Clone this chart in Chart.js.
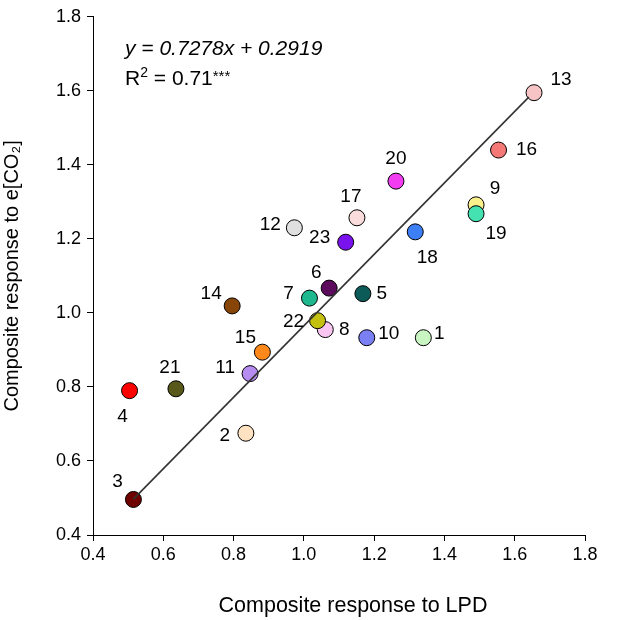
<!DOCTYPE html>
<html>
<head>
<meta charset="utf-8">
<script src="https://cdn.jsdelivr.net/npm/chart.js@4"></script>
<style>
html,body{margin:0;padding:0;background:#fff;}
#wrap{width:633px;height:620px;}
</style>
</head>
<body>
<div id="wrap"><canvas id="c" width="633" height="620"></canvas></div>
<script>
// ---- data ----
const pointIds = [1,2,3,4,5,6,7,8,9,10,11,12,13,14,15,16,17,18,19,20,21,22,23];
const lpdResponse = [1.340,0.835,0.515,0.504,1.168,1.072,1.016,1.061,1.490,1.179,0.847,0.973,1.655,0.796,0.882,1.554,1.151,1.317,1.490,1.262,0.636,1.039,1.119];
const co2Response = [0.933,0.675,0.496,0.790,1.052,1.067,1.040,0.955,1.292,0.933,0.836,1.230,1.595,1.019,0.894,1.440,1.257,1.219,1.268,1.356,0.795,0.979,1.191];
const fitLineX = [0.515, 1.640];
const fitLineY = [0.497, 1.583];
const xTicks = [0.4,0.6,0.8,1.0,1.2,1.4,1.6,1.8];
const yTicks = [0.4,0.6,0.8,1.0,1.2,1.4,1.6,1.8];
const xTitle = 'Composite response to LPD';
const yTitle = 'Composite response to e[CO₂]';
const equationText = 'y = 0.7278x + 0.2919';
const r2Value = '0.71';
const r2Stars = '***';

// ---- styles ----
const pointColors = ['#c9f5c3','#ffe2c2','#6e0000','#ff0000','#0d5b58','#5c0a5c','#1fb88e','#f8c6f0','#faf08c','#7b7ff4','#b78cf0','#e0e0e0','#f6c4c4','#884508','#ff881a','#f47976','#fbdcdc','#3d7ff7','#44e2b0','#f23cf2','#58581a','#c4c010','#7a12ee'];
const labelOffsets = [[16,-4],[-21,3],[-16,-18],[-7,26],[19,0],[-13,-15],[-21,-4],[19,0],[19,-16],[22,-4],[-25,-6],[-24,-3],[27,-13],[-21,-12],[-17,-14],[28,0],[-6,-21],[12,26],[20,20],[0,-22],[-6,-21],[-24,1],[-26,-4]];
const FONT = '"Liberation Sans", Arial, sans-serif';

const textLayer = {
  id: 'textLayer',
  afterDatasetsDraw(chart) {
    const ctx = chart.ctx;
    const meta = chart.getDatasetMeta(1);
    ctx.save();
    ctx.font = '19px ' + FONT;
    ctx.fillStyle = '#000';
    ctx.textAlign = 'center';
    ctx.textBaseline = 'middle';
    meta.data.forEach((el, i) => {
      const o = labelOffsets[i];
      ctx.fillText(String(pointIds[i]), el.x + o[0], el.y + o[1]);
    });
    const a = chart.chartArea;
    // x-axis title
    ctx.textBaseline = 'alphabetic';
    ctx.font = '21.5px ' + FONT;
    ctx.fillText(xTitle, (a.left + a.right) / 2 + 14, a.bottom + 77);
    // equation
    ctx.textAlign = 'left';
    ctx.font = 'italic 21px ' + FONT;
    ctx.fillText(equationText, a.left + 32, a.top + 38);
    ctx.font = '21px ' + FONT;
    const x0 = a.left + 32, y0 = a.top + 68;
    ctx.fillText('R', x0, y0);
    const w = ctx.measureText('R').width;
    ctx.font = '14px ' + FONT;
    ctx.fillText('2', x0 + w, y0 - 8);
    const w2 = ctx.measureText('2').width;
    ctx.font = '21px ' + FONT;
    const s = ' = ' + r2Value;
    ctx.fillText(s, x0 + w + w2, y0);
    const w3 = ctx.measureText(s).width;
    ctx.font = '15px ' + FONT;
    ctx.fillText(r2Stars, x0 + w + w2 + w3, y0 - 4);
    ctx.restore();
  }
};

new Chart(document.getElementById('c'), {
  data: {
    datasets: [
      {
        type: 'line',
        data: fitLineX.map((x, i) => ({x, y: fitLineY[i]})),
        borderColor: '#333',
        borderWidth: 1.6,
        pointRadius: 0,
        fill: false,
        order: 0
      },
      {
        type: 'scatter',
        data: lpdResponse.map((x, i) => ({x, y: co2Response[i]})),
        backgroundColor: pointColors,
        borderColor: '#000',
        borderWidth: 1,
        pointRadius: 8,
        pointHoverRadius: 8,
        order: 1
      }
    ]
  },
  options: {
    responsive: false,
    animation: false,
    layout: { padding: { top: 14, right: 48, left: 0, bottom: 0 } },
    plugins: { legend: { display: false }, tooltip: { enabled: false } },
    scales: {
      x: {
        type: 'linear', min: 0.4, max: 1.8,
        afterBuildTicks: s => { s.ticks = xTicks.map(v => ({value: v})); },
        afterFit: s => { s.height = 85; },
        grid: { drawOnChartArea: false, drawTicks: true, tickLength: 6, color: '#000', lineWidth: 1 },
        border: { display: true, color: '#000', width: 1 },
        ticks: { font: { family: FONT, size: 18 }, color: '#000', padding: 3, maxRotation: 0, callback: v => Number(v).toFixed(1) },
        title: { display: false }
      },
      y: {
        type: 'linear', min: 0.4, max: 1.8,
        afterBuildTicks: s => { s.ticks = yTicks.map(v => ({value: v})); },
        afterFit: s => { s.width = 93; },
        grid: { drawOnChartArea: false, drawTicks: true, tickLength: 6, color: '#000', lineWidth: 1 },
        border: { display: true, color: '#000', width: 1 },
        ticks: { font: { family: FONT, size: 18 }, color: '#000', padding: 6, callback: v => Number(v).toFixed(1) },
        title: { display: true, text: yTitle, font: { family: FONT, size: 20 }, color: '#000', padding: { top: 0, bottom: 4 } }
      }
    }
  },
  plugins: [textLayer]
});
</script>
</body>
</html>
